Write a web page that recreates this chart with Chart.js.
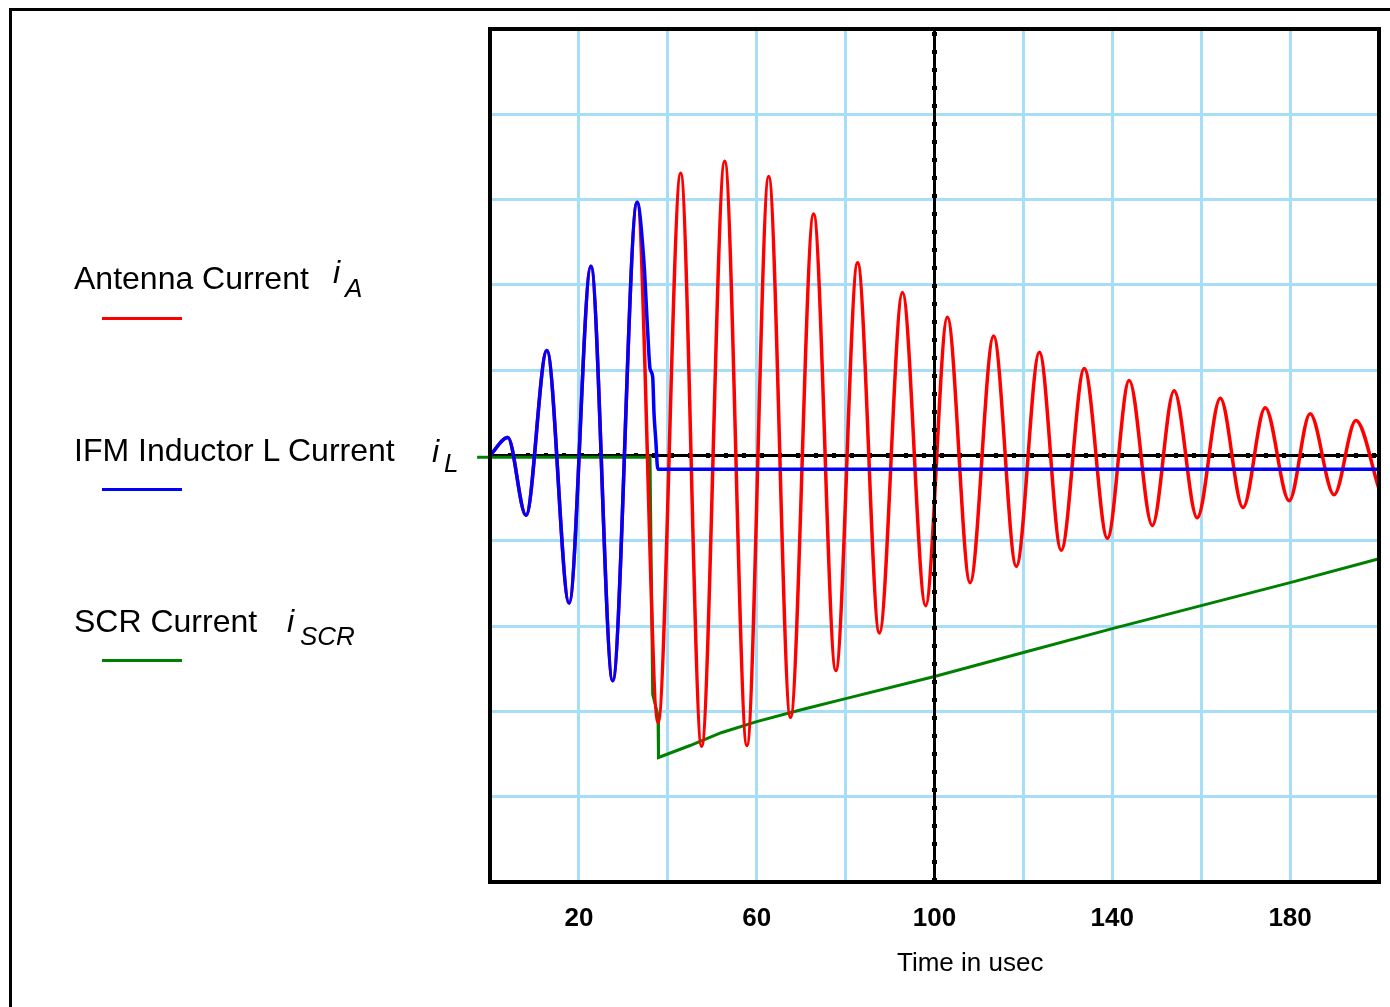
<!DOCTYPE html>
<html>
<head>
  <title>Antenna, inductor and SCR current</title>
  <script src="https://cdn.jsdelivr.net/npm/chart.js"></script>
  <style>
    body { margin: 0; background: #fff; font-family: "Liberation Sans", Arial, sans-serif; }
    #wrap { position: relative; width: 1390px; height: 1007px; overflow: hidden; }
    #frame { position: absolute; left: 9px; top: 8px; width: 1500px; height: 1100px; border-left: 3px solid #000; border-top: 3px solid #000; }
    canvas { position: absolute; left: 0; top: 0; }
    .txt { position: absolute; white-space: nowrap; line-height: 1; color: #000; }
    .name { font-size: 32px; }
    .var { font-size: 32px; font-style: italic; }
    .sub { font-size: 26px; font-style: italic; }
    .swatch { position: absolute; left: 102px; width: 80px; height: 3px; }
  </style>
</head>
<body>
<div id="wrap">
  <div id="frame"></div>
  <canvas id="chart" width="1390" height="1007"></canvas>

  <div class="txt name" style="left:74px; top:262px;">Antenna Current</div>
  <div class="txt var" style="left:333px; top:256px;">i</div>
  <div class="txt sub" style="left:345px; top:275px;">A</div>
  <div class="swatch" style="top:317px; background:#ff0000;"></div>

  <div class="txt name" style="left:74px; top:434px;">IFM Inductor L Current</div>
  <div class="txt var" style="left:432px; top:435px;">i</div>
  <div class="txt sub" style="left:444px; top:450px;">L</div>
  <div class="swatch" style="top:488px; background:#0000ff;"></div>

  <div class="txt name" style="left:74px; top:605px;">SCR Current</div>
  <div class="txt var" style="left:287px; top:605px;">i</div>
  <div class="txt sub" style="left:300px; top:623px;">SCR</div>
  <div class="swatch" style="top:659px; background:#008000;"></div>

  <div class="txt" style="left:897px; top:949px; font-size:26px;">Time in usec</div>
</div>

<script>
  // time axis (usec) and tick labels
  const timeMin = 0;
  const timeMax = 200;
  const tickLabels = [20, 60, 100, 140, 180];

  // inductor current i_L: peaks/troughs of the ring-up, then clamps just below zero
  const blueT = [0, 4.0, 8.1, 12.8, 17.8, 22.7, 27.6, 33.1, 34.6, 35.5, 36.0, 36.6, 36.9, 37.3, 37.75, 200];
  const blueI = [0, 0.21, -0.70, 1.23, -1.73, 2.22, -2.64, 2.97, 2.29, 1.43, 1.02, 0.92, 0.49, 0.18, -0.16, -0.16];

  // antenna current i_A: same as i_L until the SCR fires, then a decaying ring (peaks and troughs)
  const redT = [0, 4.0, 8.1, 12.8, 17.8, 22.7, 27.6, 33.1, 37.8, 42.9, 47.6, 52.8, 57.8,
    62.7, 67.6, 72.8, 77.8, 82.7, 87.6, 92.8, 98.0, 102.9, 108.0, 113.3, 118.4, 123.6,
    128.5, 133.7, 138.9, 143.8, 149.0, 153.9, 159.1, 164.3, 169.4, 174.4, 179.8, 184.5,
    189.9, 194.8, 200];
  const redI = [0, 0.21, -0.70, 1.23, -1.73, 2.22, -2.64, 2.97, -3.13, 3.31, -3.41, 3.45, -3.40,
    3.27, -3.07, 2.83, -2.52, 2.26, -2.08, 1.91, -1.76, 1.62, -1.49, 1.40, -1.30, 1.21,
    -1.11, 1.02, -0.97, 0.88, -0.82, 0.76, -0.73, 0.67, -0.61, 0.56, -0.53, 0.49,
    -0.46, 0.41, -0.39];

  // SCR current i_SCR: zero, step down when it fires, then slow ramp back
  const greenT = [-2.9, 36.0, 36.6, 37.8, 37.9, 45, 52, 60, 70, 80, 100, 120, 140, 160, 180, 200];
  const greenI = [-0.02, -0.02, -2.8, -3.05, -3.54, -3.40, -3.25, -3.12, -2.98, -2.85, -2.59, -2.31, -2.03, -1.76, -1.49, -1.21];

  // reference lines: zero current and t = 100 usec
  const zeroLineT = [0, 200];
  const zeroLineI = [0, 0];
  const markerT = [100, 100];
  const markerI = [-5, 5];

  function toPoints(xs, ys) {
    return xs.map((x, i) => ({ x: x, y: ys[i] }));
  }

  const gridColor = '#a6ddf7';

  // black box round the plot area
  const framePlugin = {
    id: 'plotFrame',
    afterDraw(chart) {
      const a = chart.chartArea;
      const ctx = chart.ctx;
      ctx.save();
      ctx.strokeStyle = '#000';
      ctx.lineWidth = 4;
      ctx.strokeRect(a.left, a.top, a.right - a.left, a.bottom - a.top);
      ctx.restore();
    }
  };

  Chart.defaults.font.family = '"Liberation Sans", Arial, sans-serif';
  Chart.defaults.color = '#000';

  const ctx = document.getElementById('chart').getContext('2d');
  const chart = new Chart(ctx, {
    type: 'line',
    data: {
      datasets: [
        { label: 'marker dots', data: toPoints(markerT, markerI), borderColor: '#000', borderWidth: 5, borderDash: [4, 14], order: 0 },
        { label: 'marker', data: toPoints(markerT, markerI), borderColor: '#000', borderWidth: 3, order: 1 },
        {
          label: 'i_L',
          data: toPoints(blueT, blueI),
          borderColor: '#0000ff',
          borderWidth: 3.5,
          cubicInterpolationMode: 'monotone',
          order: 2
        },
        {
          label: 'i_A',
          data: toPoints(redT, redI),
          borderColor: '#ff0000',
          borderWidth: 3.5,
          cubicInterpolationMode: 'monotone',
          order: 3
        },
        {
          label: 'i_SCR',
          data: toPoints(greenT, greenI),
          borderColor: '#008000',
          borderWidth: 3,
          tension: 0,
          clip: false,
          order: 4
        },
        { label: 'zero dots', data: toPoints(zeroLineT, zeroLineI), borderColor: '#000', borderWidth: 5, borderDash: [4, 14], order: 5 },
        { label: 'zero', data: toPoints(zeroLineT, zeroLineI), borderColor: '#000', borderWidth: 3, order: 6 }
      ]
    },
    options: {
      responsive: false,
      animation: false,
      events: [],
      elements: { point: { radius: 0 }, line: { tension: 0 } },
      layout: { padding: { left: 490, right: 11, top: 29, bottom: 65 } },
      plugins: {
        legend: { display: false },
        tooltip: { enabled: false }
      },
      scales: {
        x: {
          type: 'linear',
          min: timeMin,
          max: timeMax,
          afterFit(scale) { scale.height = 60; },
          border: { display: false },
          grid: { color: gridColor, lineWidth: 3, drawTicks: false },
          ticks: {
            stepSize: 20,
            autoSkip: false,
            maxRotation: 0,
            padding: 10,
            font: { size: 26, weight: 'bold', lineHeight: 2.05 },
            callback: (v) => (tickLabels.includes(v) ? String(v) : '')
          }
        },
        y: {
          type: 'linear',
          min: -5,
          max: 5,
          afterFit(scale) { scale.width = 0; },
          border: { display: false },
          grid: { color: gridColor, lineWidth: 3, drawTicks: false },
          ticks: { display: false, stepSize: 1 }
        }
      }
    },
    plugins: [framePlugin]
  });
</script>
</body>
</html>
